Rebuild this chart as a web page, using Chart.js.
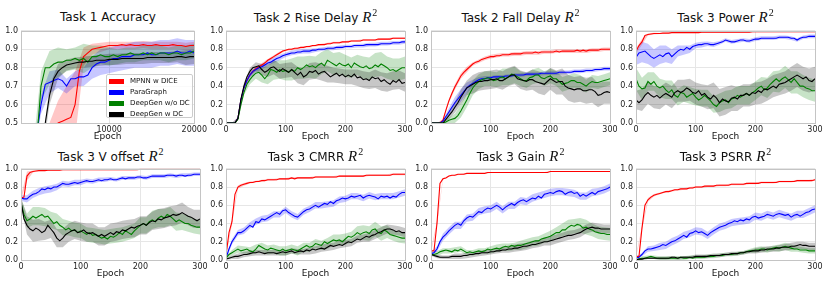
<!DOCTYPE html>
<html>
<head>
<meta charset="utf-8">
<script src="https://cdn.jsdelivr.net/npm/chart.js@4.4.1/dist/chart.umd.min.js"></script>
<style>
  html, body { margin: 0; padding: 0; background: #fff; }
  #fig { position: relative; width: 830px; height: 283px; overflow: hidden; font-family: 'DejaVu Sans', sans-serif; }
  #fig canvas { position: absolute; }
  .ttl { position: absolute; text-align: center; font-size: 12px; line-height: 14px; color: #111; white-space: nowrap; }
  .ttl i { font-family: 'Liberation Serif', serif; font-size: 15px; }
  .ttl sup { font-family: 'Liberation Serif', serif; font-size: 10px; vertical-align: 0; position: relative; top: -6px; margin-left: 1px; }
  #legend { position: absolute; left: 106px; top: 74px; width: 87px; height: 44px; background: rgba(255,255,255,0.8);
            border: 1px solid #ccc; border-radius: 2px; box-sizing: border-box; }
  #legend .row { position: absolute; left: 2px; height: 8px; font-size: 7px; line-height: 8px; color: #111; white-space: nowrap; }
  #legend .sw { position: absolute; left: 0; top: 1.5px; width: 15px; height: 5px; }
  #legend .lb { position: absolute; left: 21px; top: 0; }
</style>
</head>
<body>
<div id="fig"></div>
<script>
// x grids
const EPOCHS = [0,5,10,15,20,25,30,35,40,45,50,55,60,65,70,75,80,85,90,95,100,105,110,115,120,125,130,135,140,145,
  150,155,160,165,170,175,180,185,190,195,200,205,210,215,220,225,230,235,240,245,250,255,260,265,270,275,280,285,290,295,300];
const SD_EPOCHS = [0,10,20,30,40,50,60,70,80,90,100,110,120,130,140,150,160,170,180,190,200,210,220,230,240,250,260,270,280,290,300];
const ACC_STEPS = [0,500,1000,1500,2000,2500,3000,3500,4000,4500,5000,5500,6000,6500,7000,7500,8000,8500,9000,9500,10000,
  10500,11000,11500,12000,12500,13000,13500,14000,14500,15000,15500,16000,16500,17000,17500,18000,18500,19000,19500,20000];
const ACC_SD_STEPS = [0,1000,2000,3000,4000,5000,6000,7000,8000,9000,10000,11000,12000,13000,14000,15000,16000,17000,18000,19000,20000];

const LEGEND_LABELS = ['MPNN w DICE', 'ParaGraph', 'DeepGen w/o DC', 'DeepGen w DC'];

// Task 1 accuracy
const acc_mpnn = [0.20,0.20,0.25,0.30,0.35,0.38,0.42,0.46,0.50,0.51,0.52,0.53,0.60,0.78,0.86,0.88,0.90,0.905,0.91,0.915,
  0.92,0.92,0.92,0.925,0.92,0.925,0.92,0.92,0.925,0.92,0.92,0.925,0.92,0.92,0.92,0.925,0.92,0.92,0.915,0.92,0.92];
const acc_para = [0.20,0.25,0.30,0.44,0.60,0.71,0.72,0.73,0.74,0.73,0.70,0.74,0.74,0.75,0.75,0.76,0.80,0.82,0.83,0.83,
  0.84,0.85,0.85,0.86,0.86,0.86,0.87,0.87,0.87,0.88,0.87,0.87,0.88,0.88,0.88,0.88,0.89,0.88,0.88,0.89,0.88];
const acc_dgwo = [0.20,0.25,0.30,0.40,0.70,0.80,0.80,0.82,0.83,0.83,0.84,0.84,0.85,0.84,0.85,0.83,0.86,0.86,0.87,0.86,
  0.86,0.87,0.86,0.87,0.87,0.88,0.87,0.87,0.88,0.87,0.88,0.87,0.88,0.88,0.87,0.88,0.88,0.87,0.88,0.88,0.89];
const acc_dgw = [0.10,0.15,0.20,0.25,0.30,0.50,0.65,0.74,0.78,0.80,0.815,0.82,0.825,0.83,0.83,0.835,0.835,0.84,0.84,0.84,
  0.845,0.845,0.845,0.85,0.85,0.85,0.85,0.85,0.85,0.855,0.855,0.855,0.855,0.855,0.855,0.855,0.86,0.86,0.855,0.86,0.86];
const acc_mpnn_sd = [0.02,0.02,0.05,0.08,0.12,0.18,0.18,0.05,0.03,0.025,0.02,0.02,0.02,0.02,0.02,0.02,0.02,0.02,0.02,0.02,0.02];
const acc_para_sd = [0.02,0.03,0.05,0.06,0.05,0.04,0.04,0.05,0.06,0.07,0.07,0.07,0.07,0.07,0.07,0.07,0.07,0.07,0.07,0.07,0.07];
const acc_dgwo_sd = [0.02,0.03,0.08,0.09,0.08,0.06,0.06,0.08,0.06,0.05,0.05,0.04,0.04,0.04,0.04,0.04,0.04,0.04,0.04,0.04,0.04];
const acc_dgw_sd = [0.02,0.02,0.03,0.05,0.04,0.03,0.03,0.03,0.03,0.03,0.03,0.03,0.03,0.03,0.03,0.03,0.03,0.03,0.03,0.04,0.04];

// Task 2 rise delay
const rise_mpnn = [0,0,0,0,0.05,0.25,0.38,0.46,0.52,0.56, 0.59,0.61,0.63,0.65,0.68,0.70,0.72,0.74,0.76,0.78,
  0.79,0.80,0.80,0.81,0.81,0.82,0.82,0.83,0.83,0.84, 0.84,0.85,0.85,0.85,0.86,0.86,0.87,0.87,0.87,0.88,
  0.88,0.88,0.89,0.89,0.89,0.89,0.90,0.90,0.90,0.90, 0.90,0.91,0.91,0.91,0.91,0.91,0.92,0.92,0.92,0.92, 0.92];
const rise_para = [0,0,0,0,0.05,0.25,0.38,0.46,0.52,0.56, 0.58,0.60,0.61,0.63,0.65,0.66,0.68,0.70,0.71,0.73,
  0.74,0.75,0.76,0.76,0.77,0.77,0.78,0.78,0.78,0.79, 0.79,0.80,0.80,0.80,0.81,0.81,0.81,0.82,0.82,0.82,
  0.83,0.83,0.83,0.84,0.84,0.84,0.84,0.85,0.85,0.85, 0.85,0.85,0.86,0.86,0.86,0.86,0.87,0.87,0.87,0.88, 0.88];
const rise_dgwo = [0,0,0,0,0.04,0.20,0.33,0.42,0.47,0.51, 0.54,0.55,0.52,0.48,0.52,0.58,0.57,0.55,0.58,0.56,
  0.57,0.55,0.58,0.56,0.60,0.58,0.60,0.63,0.61,0.62, 0.60,0.63,0.65,0.62,0.68,0.66,0.64,0.62,0.65,0.63,
  0.62,0.64,0.60,0.65,0.63,0.61,0.60,0.62,0.59,0.60, 0.63,0.61,0.64,0.62,0.60,0.57,0.58,0.56,0.58,0.60, 0.60];
const rise_dgw = [0,0,0,0,0.05,0.26,0.40,0.50,0.56,0.60, 0.61,0.62,0.58,0.55,0.57,0.60,0.61,0.58,0.56,0.59,
  0.57,0.55,0.58,0.55,0.52,0.55,0.50,0.52,0.56,0.55, 0.57,0.53,0.55,0.56,0.53,0.50,0.52,0.54,0.51,0.53,
  0.50,0.52,0.50,0.53,0.49,0.50,0.47,0.48,0.46,0.50, 0.48,0.49,0.45,0.47,0.44,0.42,0.46,0.44,0.47,0.43, 0.44];
const rise_mpnn_sd = [0,0,0.01,0.02,0.02,0.02,0.02,0.015,0.015,0.015,0.01,0.01,0.01,0.01,0.01,0.01,0.01,0.01,0.01,0.01,
  0.01,0.01,0.01,0.01,0.01,0.01,0.01,0.01,0.01,0.01,0.01];
const rise_para_sd = [0,0,0.01,0.02,0.03,0.03,0.03,0.03,0.03,0.03,0.025,0.025,0.025,0.025,0.025,0.02,0.02,0.02,0.02,0.02,
  0.02,0.02,0.02,0.02,0.02,0.02,0.02,0.02,0.02,0.02,0.02];
const rise_dgwo_sd = [0,0,0.01,0.03,0.05,0.06,0.08,0.10,0.10,0.10,0.11,0.12,0.12,0.12,0.12,0.12,0.12,0.12,0.12,0.12,
  0.12,0.11,0.11,0.12,0.12,0.13,0.13,0.12,0.12,0.12,0.12];
const rise_dgw_sd = [0,0,0.01,0.03,0.04,0.05,0.06,0.07,0.08,0.08,0.08,0.08,0.09,0.09,0.09,0.09,0.09,0.09,0.08,0.08,
  0.08,0.08,0.09,0.09,0.09,0.10,0.10,0.10,0.10,0.10,0.10];

// Task 2 fall delay
const fall_mpnn = [0,0,0,0,0.03,0.14,0.24,0.32,0.39,0.45, 0.51,0.55,0.58,0.61,0.64,0.66,0.67,0.69,0.70,0.71,
  0.72,0.72,0.73,0.73,0.74,0.74,0.74,0.75,0.75,0.75, 0.75,0.76,0.76,0.76,0.76,0.77,0.76,0.77,0.77,0.77,
  0.77,0.77,0.78,0.77,0.78,0.78,0.78,0.78,0.78,0.79, 0.78,0.79,0.78,0.79,0.79,0.79,0.79,0.80,0.80,0.80, 0.80];
const fall_para = [0,0,0,0,0.02,0.07,0.12,0.17,0.22,0.26, 0.30,0.34,0.38,0.41,0.43,0.45,0.47,0.48,0.48,0.49,
  0.49,0.50,0.50,0.50,0.50,0.51,0.51,0.51,0.52,0.52, 0.52,0.52,0.53,0.53,0.53,0.53,0.53,0.54,0.54,0.54,
  0.54,0.54,0.54,0.55,0.55,0.55,0.55,0.55,0.56,0.56, 0.56,0.56,0.57,0.57,0.57,0.58,0.58,0.58,0.59,0.59, 0.59];
const fall_dgwo = [0,0,0,0,0,0.01,0.03,0.04,0.05,0.08, 0.13,0.19,0.25,0.32,0.38,0.42,0.45,0.47,0.48,0.49,
  0.48,0.46,0.47,0.49,0.50,0.48,0.50,0.53,0.52,0.50, 0.48,0.46,0.46,0.49,0.50,0.52,0.52,0.49,0.48,0.50,
  0.51,0.48,0.48,0.45,0.42,0.43,0.44,0.46,0.46,0.44, 0.44,0.42,0.40,0.43,0.45,0.44,0.44,0.45,0.46,0.47, 0.48];
const fall_dgw = [0,0,0,0,0,0.04,0.08,0.12,0.17,0.22, 0.28,0.33,0.38,0.40,0.42,0.44,0.45,0.45,0.46,0.46,
  0.47,0.47,0.48,0.46,0.46,0.48,0.50,0.52,0.52,0.48, 0.47,0.46,0.45,0.47,0.47,0.45,0.44,0.43,0.42,0.45,
  0.48,0.46,0.44,0.45,0.45,0.40,0.38,0.37,0.36,0.37, 0.37,0.35,0.35,0.36,0.36,0.34,0.30,0.31,0.33,0.34, 0.33];
const fall_mpnn_sd = [0,0,0.01,0.02,0.03,0.03,0.03,0.02,0.02,0.02,0.02,0.02,0.02,0.02,0.02,0.02,0.02,0.02,0.02,0.02,
  0.02,0.02,0.02,0.02,0.02,0.02,0.02,0.02,0.02,0.02,0.02];
const fall_para_sd = [0,0,0.01,0.04,0.06,0.07,0.06,0.04,0.03,0.03,0.02,0.02,0.02,0.02,0.02,0.02,0.02,0.02,0.02,0.02,
  0.02,0.02,0.02,0.02,0.02,0.02,0.02,0.02,0.02,0.02,0.02];
const fall_dgwo_sd = [0,0,0.01,0.03,0.05,0.07,0.08,0.08,0.08,0.08,0.08,0.08,0.09,0.09,0.09,0.08,0.08,0.08,0.08,0.08,
  0.08,0.08,0.08,0.08,0.08,0.08,0.07,0.07,0.07,0.07,0.07];
const fall_dgw_sd = [0,0,0.01,0.04,0.06,0.08,0.08,0.10,0.10,0.10,0.10,0.10,0.10,0.10,0.10,0.10,0.10,0.11,0.12,0.12,
  0.12,0.13,0.14,0.14,0.14,0.14,0.14,0.14,0.13,0.12,0.12];

// Task 3 power
const power_mpnn = [0.78,0.84,0.88,0.95,0.96,0.965,0.97,0.97,0.97,0.975, 0.975,0.975,0.98,0.98,0.98,0.98,0.98,0.98,0.98,0.98,
  0.98,0.98,0.985,0.985,0.985,0.985,0.985,0.985,0.985,0.985, 0.985,0.985,0.985,0.985,0.985,0.985,0.985,0.985,0.985,0.99,
  0.99,0.99,0.99,0.99,0.99,0.99,0.99,0.99,0.99,0.99, 0.99,0.99,0.99,0.99,0.99,0.99,0.99,0.99,0.99,0.99, 0.99];
const power_para = [0.71,0.76,0.77,0.78,0.75,0.72,0.70,0.72,0.74,0.72, 0.75,0.76,0.72,0.75,0.78,0.80,0.79,0.82,0.80,0.83,
  0.84,0.85,0.85,0.86,0.86,0.85,0.85,0.86,0.87,0.88, 0.90,0.89,0.88,0.88,0.89,0.90,0.90,0.89,0.89,0.90,
  0.91,0.91,0.92,0.92,0.92,0.92,0.92,0.92,0.93,0.93, 0.93,0.93,0.92,0.92,0.90,0.92,0.93,0.93,0.94,0.94, 0.94];
const power_dgwo = [0.48,0.40,0.37,0.38,0.45,0.42,0.45,0.40,0.38,0.40, 0.36,0.33,0.36,0.30,0.28,0.33,0.32,0.28,0.30,0.32,
  0.28,0.25,0.27,0.30,0.27,0.24,0.20,0.18,0.22,0.24, 0.25,0.22,0.26,0.27,0.30,0.28,0.30,0.32,0.30,0.33,
  0.35,0.38,0.40,0.36,0.38,0.42,0.45,0.48,0.45,0.48, 0.50,0.47,0.44,0.48,0.44,0.40,0.40,0.38,0.37,0.35, 0.35];
const power_dgw = [0.25,0.22,0.25,0.30,0.33,0.30,0.28,0.30,0.27,0.30, 0.32,0.30,0.28,0.33,0.35,0.33,0.35,0.38,0.36,0.33,
  0.32,0.35,0.30,0.32,0.28,0.26,0.30,0.27,0.22,0.26, 0.24,0.23,0.27,0.28,0.26,0.30,0.30,0.32,0.30,0.33,
  0.32,0.35,0.33,0.37,0.36,0.38,0.40,0.38,0.42,0.43, 0.44,0.46,0.48,0.50,0.52,0.50,0.48,0.50,0.46,0.45, 0.48];
const power_mpnn_sd = [0.03,0.03,0.01,0.01,0.005,0.005,0.005,0.005,0.005,0.005,0.005,0.005,0.005,0.005,0.005,0.005,
  0.005,0.005,0.005,0.005,0.005,0.005,0.005,0.005,0.005,0.005,0.005,0.005,0.005,0.005,0.005];
const power_para_sd = [0.08,0.11,0.11,0.10,0.10,0.09,0.08,0.06,0.05,0.04,0.03,0.03,0.025,0.025,0.02,0.02,0.02,0.02,0.02,0.02,
  0.02,0.02,0.02,0.02,0.02,0.02,0.02,0.02,0.02,0.02,0.02];
const power_dgwo_sd = [0.12,0.12,0.10,0.10,0.10,0.10,0.10,0.09,0.09,0.09,0.09,0.09,0.09,0.09,0.10,0.10,0.10,0.10,0.10,0.10,
  0.10,0.10,0.11,0.11,0.12,0.12,0.12,0.12,0.12,0.12,0.12];
const power_dgw_sd = [0.10,0.12,0.12,0.12,0.12,0.12,0.12,0.12,0.12,0.12,0.12,0.12,0.13,0.14,0.15,0.15,0.14,0.13,0.12,0.12,
  0.12,0.12,0.12,0.12,0.12,0.12,0.13,0.13,0.13,0.13,0.13];

// Task 3 V offset
const voff_mpnn = [0.68,0.69,0.92,0.96,0.97,0.975,0.98,0.98,0.98,0.985, 0.985,0.985,0.985,0.985,0.99,0.99,0.99,0.99,0.99,0.99,
  0.99,0.99,0.99,0.99,0.99,0.99,0.99,0.99,0.99,0.99, 0.99,0.99,0.99,0.99,0.99,0.99,0.99,0.99,0.99,0.99,
  0.995,0.995,0.995,0.995,0.995,0.995,0.995,0.995,0.995,0.995, 0.995,0.995,0.995,0.995,0.995,0.995,0.995,0.995,0.995,0.995, 0.995];
const voff_para = [0.68,0.67,0.67,0.70,0.72,0.73,0.75,0.78,0.77,0.79, 0.78,0.80,0.80,0.82,0.84,0.83,0.83,0.84,0.85,0.84,
  0.85,0.86,0.87,0.86,0.86,0.87,0.88,0.87,0.88,0.88, 0.89,0.88,0.88,0.89,0.90,0.89,0.90,0.90,0.90,0.91,
  0.91,0.90,0.90,0.91,0.92,0.92,0.92,0.92,0.92,0.93, 0.93,0.93,0.92,0.93,0.93,0.92,0.93,0.93,0.94,0.94, 0.94];
const voff_dgwo = [0.62,0.50,0.43,0.45,0.48,0.46,0.48,0.50,0.47,0.48, 0.44,0.40,0.42,0.38,0.36,0.33,0.35,0.32,0.33,0.30,
  0.32,0.30,0.28,0.30,0.27,0.28,0.26,0.24,0.25,0.23, 0.26,0.25,0.27,0.30,0.28,0.32,0.30,0.28,0.32,0.35,
  0.38,0.40,0.38,0.42,0.44,0.42,0.46,0.48,0.46,0.50, 0.48,0.45,0.42,0.44,0.42,0.40,0.40,0.38,0.37,0.36, 0.36];
const voff_dgw = [0.64,0.45,0.38,0.34,0.32,0.35,0.33,0.30,0.32,0.38, 0.34,0.30,0.24,0.21,0.24,0.28,0.30,0.32,0.33,0.30,
  0.31,0.33,0.30,0.29,0.30,0.28,0.26,0.28,0.26,0.28, 0.30,0.28,0.31,0.30,0.33,0.32,0.34,0.36,0.35,0.37,
  0.38,0.40,0.38,0.41,0.43,0.42,0.45,0.44,0.46,0.47, 0.48,0.50,0.49,0.50,0.52,0.50,0.48,0.47,0.45,0.43, 0.45];
const voff_mpnn_sd = [0.02,0.05,0.01,0.005,0.005,0.005,0.005,0.005,0.005,0.005,0.005,0.005,0.005,0.005,0.005,0.005,
  0.005,0.005,0.005,0.005,0.005,0.005,0.005,0.005,0.005,0.005,0.005,0.005,0.005,0.005,0.005];
const voff_para_sd = [0.03,0.04,0.04,0.04,0.04,0.04,0.035,0.03,0.03,0.03,0.03,0.025,0.025,0.025,0.025,0.02,0.02,0.02,0.02,0.02,
  0.02,0.02,0.02,0.02,0.02,0.02,0.02,0.02,0.02,0.02,0.02];
const voff_dgwo_sd = [0.05,0.08,0.10,0.10,0.10,0.09,0.09,0.09,0.08,0.08,0.08,0.08,0.08,0.08,0.08,0.08,0.08,0.08,0.08,0.08,
  0.09,0.09,0.10,0.10,0.10,0.10,0.10,0.09,0.09,0.08,0.08];
const voff_dgw_sd = [0.05,0.10,0.12,0.12,0.10,0.10,0.10,0.10,0.10,0.10,0.10,0.10,0.10,0.10,0.10,0.10,0.10,0.10,0.10,0.10,
  0.10,0.10,0.10,0.11,0.11,0.11,0.11,0.11,0.10,0.10,0.10];

// Task 3 CMRR
const cmrr_mpnn = [0.05,0.30,0.42,0.72,0.80,0.82,0.83,0.84,0.85,0.85, 0.86,0.86,0.87,0.87,0.88,0.88,0.88,0.88,0.89,0.89,
  0.89,0.89,0.90,0.89,0.90,0.90,0.90,0.90,0.90,0.90, 0.91,0.91,0.91,0.91,0.91,0.91,0.91,0.91,0.92,0.92,
  0.92,0.92,0.92,0.92,0.92,0.92,0.92,0.93,0.93,0.93, 0.93,0.93,0.93,0.93,0.93,0.93,0.94,0.94,0.94,0.94, 0.94];
const cmrr_para = [0.02,0.12,0.20,0.25,0.30,0.30,0.32,0.35,0.38,0.36, 0.42,0.41,0.45,0.44,0.46,0.48,0.50,0.52,0.50,0.54,
  0.55,0.52,0.50,0.48,0.47,0.50,0.53,0.55,0.56,0.58, 0.60,0.58,0.60,0.62,0.61,0.64,0.62,0.65,0.66,0.68,
  0.67,0.68,0.70,0.69,0.70,0.71,0.68,0.70,0.71,0.70, 0.69,0.67,0.70,0.69,0.70,0.68,0.70,0.69,0.72,0.74, 0.74];
const cmrr_dgwo = [0.02,0.06,0.08,0.10,0.12,0.10,0.11,0.12,0.10,0.09, 0.12,0.16,0.14,0.12,0.11,0.13,0.12,0.11,0.10,0.12,
  0.10,0.11,0.12,0.11,0.10,0.12,0.14,0.16,0.14,0.15, 0.18,0.17,0.16,0.20,0.18,0.20,0.22,0.21,0.22,0.20,
  0.23,0.26,0.25,0.27,0.30,0.28,0.30,0.31,0.29,0.33, 0.34,0.30,0.29,0.33,0.31,0.28,0.27,0.26,0.25,0.24, 0.24];
const cmrr_dgw = [0.01,0.02,0.03,0.04,0.04,0.05,0.06,0.06,0.07,0.08, 0.08,0.09,0.08,0.07,0.08,0.08,0.08,0.07,0.08,0.09,
  0.08,0.09,0.10,0.08,0.09,0.10,0.09,0.11,0.10,0.12, 0.11,0.12,0.13,0.12,0.14,0.16,0.15,0.16,0.17,0.16,
  0.18,0.20,0.19,0.21,0.23,0.22,0.24,0.26,0.25,0.27, 0.28,0.30,0.31,0.33,0.34,0.34,0.33,0.31,0.32,0.30, 0.30];
const cmrr_mpnn_sd = [0.01,0.03,0.02,0.015,0.01,0.01,0.01,0.01,0.01,0.01,0.01,0.01,0.01,0.01,0.01,0.01,0.01,0.01,0.01,0.01,
  0.01,0.01,0.01,0.01,0.01,0.01,0.01,0.01,0.01,0.01,0.01];
const cmrr_para_sd = [0.02,0.03,0.03,0.035,0.035,0.035,0.035,0.035,0.035,0.035,0.035,0.035,0.035,0.035,0.035,0.035,
  0.035,0.035,0.035,0.035,0.035,0.035,0.035,0.035,0.035,0.035,0.035,0.035,0.035,0.035,0.035];
const cmrr_dgwo_sd = [0.02,0.03,0.04,0.04,0.04,0.05,0.05,0.05,0.05,0.05,0.05,0.05,0.05,0.05,0.05,0.05,0.05,0.06,0.06,0.06,
  0.06,0.06,0.07,0.08,0.08,0.08,0.08,0.07,0.06,0.06,0.06];
const cmrr_dgw_sd = [0.01,0.02,0.03,0.03,0.03,0.03,0.03,0.03,0.03,0.03,0.03,0.03,0.03,0.03,0.04,0.04,0.04,0.04,0.04,0.04,
  0.04,0.04,0.04,0.04,0.05,0.05,0.05,0.05,0.05,0.05,0.05];

// Task 3 gain
const gain_mpnn = [0.10,0.10,0.40,0.84,0.89,0.90,0.92,0.93,0.93,0.94, 0.94,0.94,0.95,0.95,0.95,0.95,0.95,0.95,0.95,0.96,
  0.96,0.96,0.96,0.96,0.96,0.96,0.96,0.96,0.96,0.96, 0.96,0.96,0.96,0.96,0.96,0.96,0.96,0.96,0.96,0.96,
  0.97,0.97,0.97,0.97,0.97,0.97,0.97,0.97,0.97,0.97, 0.97,0.97,0.97,0.97,0.97,0.97,0.97,0.97,0.97,0.97, 0.97];
const gain_para = [0.07,0.08,0.12,0.20,0.25,0.28,0.32,0.35,0.38,0.40, 0.38,0.43,0.46,0.48,0.47,0.50,0.53,0.52,0.55,0.57,
  0.56,0.58,0.60,0.58,0.55,0.58,0.60,0.62,0.60,0.63, 0.65,0.66,0.64,0.66,0.68,0.67,0.70,0.68,0.72,0.73,
  0.74,0.73,0.75,0.76,0.75,0.72,0.74,0.75,0.73,0.74, 0.70,0.72,0.70,0.72,0.74,0.72,0.75,0.76,0.77,0.78, 0.80];
const gain_dgwo = [0.06,0.06,0.07,0.09,0.10,0.11,0.10,0.09,0.11,0.10, 0.12,0.10,0.08,0.09,0.08,0.09,0.10,0.09,0.10,0.12,
  0.11,0.12,0.13,0.12,0.14,0.15,0.14,0.16,0.15,0.16, 0.16,0.17,0.18,0.19,0.20,0.21,0.21,0.23,0.24,0.25,
  0.26,0.28,0.30,0.30,0.33,0.33,0.36,0.38,0.37,0.39, 0.38,0.35,0.36,0.34,0.33,0.31,0.30,0.29,0.29,0.28, 0.28];
const gain_dgw = [0.06,0.05,0.04,0.03,0.03,0.03,0.03,0.04,0.04,0.04, 0.04,0.05,0.05,0.06,0.06,0.07,0.07,0.08,0.08,0.08,
  0.09,0.09,0.10,0.10,0.11,0.11,0.12,0.12,0.13,0.13, 0.14,0.15,0.15,0.16,0.17,0.17,0.18,0.19,0.20,0.20,
  0.21,0.22,0.23,0.24,0.25,0.26,0.27,0.27,0.28,0.29, 0.30,0.32,0.34,0.35,0.36,0.35,0.35,0.34,0.34,0.34, 0.34];
const gain_mpnn_sd = [0.01,0.03,0.01,0.005,0.005,0.005,0.005,0.005,0.005,0.005,0.005,0.005,0.005,0.005,0.005,0.005,
  0.005,0.005,0.005,0.005,0.005,0.005,0.005,0.005,0.005,0.005,0.005,0.005,0.005,0.005,0.005];
const gain_para_sd = [0.02,0.03,0.04,0.04,0.04,0.04,0.04,0.04,0.04,0.04,0.04,0.04,0.04,0.04,0.04,0.04,0.04,0.04,0.04,0.04,
  0.04,0.04,0.04,0.04,0.04,0.04,0.04,0.04,0.04,0.04,0.04];
const gain_dgwo_sd = [0.02,0.03,0.03,0.03,0.03,0.03,0.03,0.03,0.03,0.03,0.04,0.04,0.04,0.04,0.04,0.05,0.05,0.05,0.05,0.05,
  0.06,0.06,0.07,0.08,0.08,0.08,0.08,0.07,0.07,0.07,0.07];
const gain_dgw_sd = [0.01,0.02,0.02,0.02,0.03,0.03,0.03,0.03,0.03,0.03,0.03,0.03,0.03,0.04,0.04,0.04,0.04,0.04,0.04,0.04,
  0.05,0.05,0.05,0.05,0.05,0.05,0.05,0.05,0.05,0.05,0.05];

// Task 3 PSRR
const psrr_mpnn = [0.04,0.04,0.35,0.60,0.66,0.69,0.71,0.72,0.73,0.74, 0.75,0.75,0.76,0.77,0.77,0.78,0.78,0.78,0.79,0.79,
  0.80,0.80,0.80,0.81,0.81,0.81,0.81,0.82,0.82,0.82, 0.82,0.82,0.83,0.83,0.83,0.83,0.83,0.84,0.84,0.84,
  0.84,0.84,0.85,0.85,0.85,0.85,0.85,0.85,0.86,0.86, 0.86,0.86,0.86,0.86,0.87,0.87,0.87,0.87,0.87,0.87, 0.88];
const psrr_para = [0.02,0.03,0.06,0.10,0.12,0.12,0.13,0.14,0.15,0.17, 0.16,0.18,0.20,0.21,0.23,0.25,0.27,0.25,0.29,0.30,
  0.32,0.30,0.31,0.29,0.27,0.30,0.32,0.34,0.36,0.37, 0.38,0.40,0.41,0.43,0.42,0.44,0.43,0.45,0.44,0.47,
  0.48,0.46,0.47,0.48,0.50,0.49,0.48,0.50,0.51,0.50, 0.49,0.50,0.47,0.49,0.50,0.48,0.50,0.52,0.53,0.55, 0.56];
const psrr_dgwo = [0,0.01,0.02,0.02,0.03,0.04,0.03,0.02,0.02,0.02, 0.02,0.02,0.02,0.02,0.02,0.03,0.02,0.02,0.03,0.02,
  0.03,0.03,0.03,0.03,0.04,0.04,0.04,0.05,0.05,0.05, 0.06,0.06,0.06,0.07,0.07,0.08,0.08,0.09,0.10,0.10,
  0.11,0.11,0.12,0.12,0.11,0.12,0.13,0.14,0.13,0.14, 0.15,0.14,0.13,0.12,0.12,0.11,0.11,0.11,0.10,0.10, 0.10];
const psrr_dgw = [0,0.01,0.01,0.02,0.02,0.02,0.02,0.02,0.02,0.02, 0.02,0.02,0.03,0.03,0.02,0.03,0.03,0.03,0.03,0.03,
  0.04,0.04,0.04,0.04,0.04,0.05,0.05,0.05,0.05,0.06, 0.06,0.06,0.07,0.07,0.07,0.08,0.08,0.09,0.09,0.10,
  0.10,0.10,0.11,0.11,0.12,0.12,0.12,0.13,0.13,0.14, 0.14,0.14,0.15,0.15,0.16,0.17,0.16,0.16,0.15,0.15, 0.15];
const psrr_mpnn_sd = [0.01,0.02,0.02,0.015,0.01,0.01,0.01,0.01,0.01,0.01,0.01,0.01,0.01,0.01,0.01,0.01,0.01,0.01,0.01,0.01,
  0.01,0.01,0.01,0.01,0.01,0.01,0.01,0.01,0.01,0.01,0.01];
const psrr_para_sd = [0.01,0.02,0.03,0.03,0.04,0.04,0.04,0.04,0.04,0.04,0.04,0.04,0.04,0.04,0.04,0.04,0.04,0.04,0.04,0.04,
  0.04,0.04,0.04,0.04,0.04,0.04,0.04,0.04,0.04,0.04,0.04];
const psrr_dgwo_sd = [0.01,0.02,0.02,0.02,0.02,0.02,0.02,0.02,0.02,0.02,0.02,0.02,0.02,0.02,0.02,0.02,0.02,0.02,0.02,0.02,
  0.03,0.03,0.03,0.03,0.04,0.04,0.04,0.03,0.03,0.03,0.03];
const psrr_dgw_sd = [0.005,0.01,0.01,0.01,0.015,0.015,0.015,0.015,0.015,0.015,0.02,0.02,0.02,0.02,0.02,0.02,0.02,0.02,0.02,0.02,
  0.03,0.03,0.03,0.03,0.035,0.035,0.04,0.04,0.04,0.04,0.04];

const COLORS = ['#ff0000', '#0000ff', '#008000', '#000000'];
const BANDS = ['rgba(255,0,0,0.22)', 'rgba(0,0,255,0.22)', 'rgba(0,128,0,0.22)', 'rgba(0,0,0,0.22)'];
const GRID = '#e6e6e6';
const TICK = '#222';

const EP = { xs: EPOCHS, sdX: SD_EPOCHS, xMin: 0, xMax: 300, xTicks: [0, 100, 200, 300], yMin: 0, yMax: 1, yStep: 0.2 };

const PANELS = [
  { title: 'Task 1 Accuracy', box: [21, 29, 174, 94], titleTop: 10, padRight: 14,
    xs: ACC_STEPS, sdX: ACC_SD_STEPS, xMin: -350, xMax: 20000, xTicks: [10000, 20000], yMin: 0.5, yMax: 1, yStep: 0.1,
    series: [acc_mpnn, acc_para, acc_dgwo, acc_dgw], sd: [acc_mpnn_sd, acc_para_sd, acc_dgwo_sd, acc_dgw_sd] },
  Object.assign({ title: 'Task 2 Rise Delay', r2: true, box: [226, 29, 179, 94], titleTop: 10,
    series: [rise_mpnn, rise_para, rise_dgwo, rise_dgw], sd: [rise_mpnn_sd, rise_para_sd, rise_dgwo_sd, rise_dgw_sd] }, EP),
  Object.assign({ title: 'Task 2 Fall Delay', r2: true, box: [431, 29, 179, 94], titleTop: 10,
    series: [fall_mpnn, fall_para, fall_dgwo, fall_dgw], sd: [fall_mpnn_sd, fall_para_sd, fall_dgwo_sd, fall_dgw_sd] }, EP),
  Object.assign({ title: 'Task 3 Power', r2: true, box: [636, 29, 179, 94], titleTop: 10,
    series: [power_mpnn, power_para, power_dgwo, power_dgw], sd: [power_mpnn_sd, power_para_sd, power_dgwo_sd, power_dgw_sd] }, EP),
  Object.assign({ title: 'Task 3 V offset', r2: true, box: [21, 167, 179, 93], titleTop: 149,
    series: [voff_mpnn, voff_para, voff_dgwo, voff_dgw], sd: [voff_mpnn_sd, voff_para_sd, voff_dgwo_sd, voff_dgw_sd] }, EP),
  Object.assign({ title: 'Task 3 CMRR', r2: true, box: [226, 167, 179, 93], titleTop: 149,
    series: [cmrr_mpnn, cmrr_para, cmrr_dgwo, cmrr_dgw], sd: [cmrr_mpnn_sd, cmrr_para_sd, cmrr_dgwo_sd, cmrr_dgw_sd] }, EP),
  Object.assign({ title: 'Task 3 Gain', r2: true, box: [431, 167, 179, 93], titleTop: 149,
    series: [gain_mpnn, gain_para, gain_dgwo, gain_dgw], sd: [gain_mpnn_sd, gain_para_sd, gain_dgwo_sd, gain_dgw_sd] }, EP),
  Object.assign({ title: 'Task 3 PSRR', r2: true, box: [636, 167, 179, 93], titleTop: 149,
    series: [psrr_mpnn, psrr_para, psrr_dgwo, psrr_dgw], sd: [psrr_mpnn_sd, psrr_para_sd, psrr_dgwo_sd, psrr_dgw_sd] }, EP)
];

Chart.defaults.font.family = "'DejaVu Sans', sans-serif";

// light frame around each plot area, drawn above the curves like matplotlib spines
const framePlugin = {
  id: 'frame',
  afterDatasetsDraw(chart) {
    const a = chart.chartArea, ctx = chart.ctx;
    ctx.save();
    ctx.strokeStyle = '#c4c4c4';
    ctx.lineWidth = 1;
    ctx.strokeRect(Math.round(a.left) + 0.5, Math.round(a.top) + 0.5, Math.round(a.right - a.left), Math.round(a.bottom - a.top));
    ctx.restore();
  }
};

function pts(xs, ys) {
  return xs.map((x, i) => ({ x: x, y: ys[i] }));
}

function bandPts(xs, mean, sdX, sd, sign) {
  return sdX.map((x, i) => ({ x: x, y: mean[xs.indexOf(x)] + sign * sd[i] }));
}

const fig = document.getElementById('fig');

PANELS.forEach(function(p) {
  const L = p.box[0], T = p.box[1], W = p.box[2], H = p.box[3];
  const padR = p.padRight || 10;

  const ttl = document.createElement('div');
  ttl.className = 'ttl';
  ttl.style.left = L + 'px';
  ttl.style.width = W + 'px';
  ttl.style.top = p.titleTop + 'px';
  ttl.innerHTML = p.title + (p.r2 ? ' <i>R</i><sup>2</sup>' : '');
  fig.appendChild(ttl);

  const cv = document.createElement('canvas');
  cv.width = W + 24 + padR;
  cv.height = H + 6 + 19;
  cv.style.left = (L - 24) + 'px';
  cv.style.top = (T - 6) + 'px';
  fig.appendChild(cv);

  const datasets = [];
  p.series.forEach(function(ys, k) {
    datasets.push({ data: pts(p.xs, ys), borderColor: COLORS[k], borderWidth: 1.1, pointRadius: 0, fill: false, order: 3 - k });
  });
  p.series.forEach(function(ys, k) {
    datasets.push({ data: bandPts(p.xs, ys, p.sdX, p.sd[k], 1), borderColor: 'rgba(0,0,0,0)', borderWidth: 0,
      pointRadius: 0, backgroundColor: BANDS[k], fill: '+1', order: 13 - k });
    datasets.push({ data: bandPts(p.xs, ys, p.sdX, p.sd[k], -1), borderColor: 'rgba(0,0,0,0)', borderWidth: 0,
      pointRadius: 0, fill: false, order: 13 - k });
  });

  new Chart(cv, {
    type: 'line',
    data: { datasets: datasets },
    plugins: [framePlugin],
    options: {
      responsive: false,
      animation: false,
      devicePixelRatio: 1,
      layout: { padding: { top: 6, right: padR, left: 0, bottom: 0 } },
      plugins: { legend: { display: false }, tooltip: { enabled: false } },
      scales: {
        x: {
          type: 'linear', min: p.xMin, max: p.xMax,
          afterBuildTicks: function(s) { s.ticks = p.xTicks.map(v => ({ value: v })); },
          afterFit: function(s) { s.height = 19; },
          grid: { color: GRID, drawTicks: false },
          border: { display: false },
          ticks: { padding: 2, color: TICK, font: { size: 8 }, maxRotation: 0, autoSkip: false, callback: v => String(v) },
          title: { display: true, text: 'Epoch', padding: 0, color: '#111', font: { size: 9 } }
        },
        y: {
          min: p.yMin, max: p.yMax,
          afterFit: function(s) { s.width = 24; },
          grid: { color: GRID, drawTicks: false },
          border: { display: false },
          ticks: { stepSize: p.yStep, padding: 3, color: TICK, font: { size: 8 }, autoSkip: false, callback: v => v.toFixed(1) }
        }
      }
    }
  });
});

// legend inside the first panel
const lg = document.createElement('div');
lg.id = 'legend';
LEGEND_LABELS.forEach(function(name, k) {
  const row = document.createElement('div');
  row.className = 'row';
  row.style.top = (2 + k * 11) + 'px';
  row.innerHTML = '<span class="sw" style="background:' + COLORS[k] + '"></span><span class="lb">' + name + '</span>';
  lg.appendChild(row);
});
fig.appendChild(lg);
</script>
</body>
</html>
